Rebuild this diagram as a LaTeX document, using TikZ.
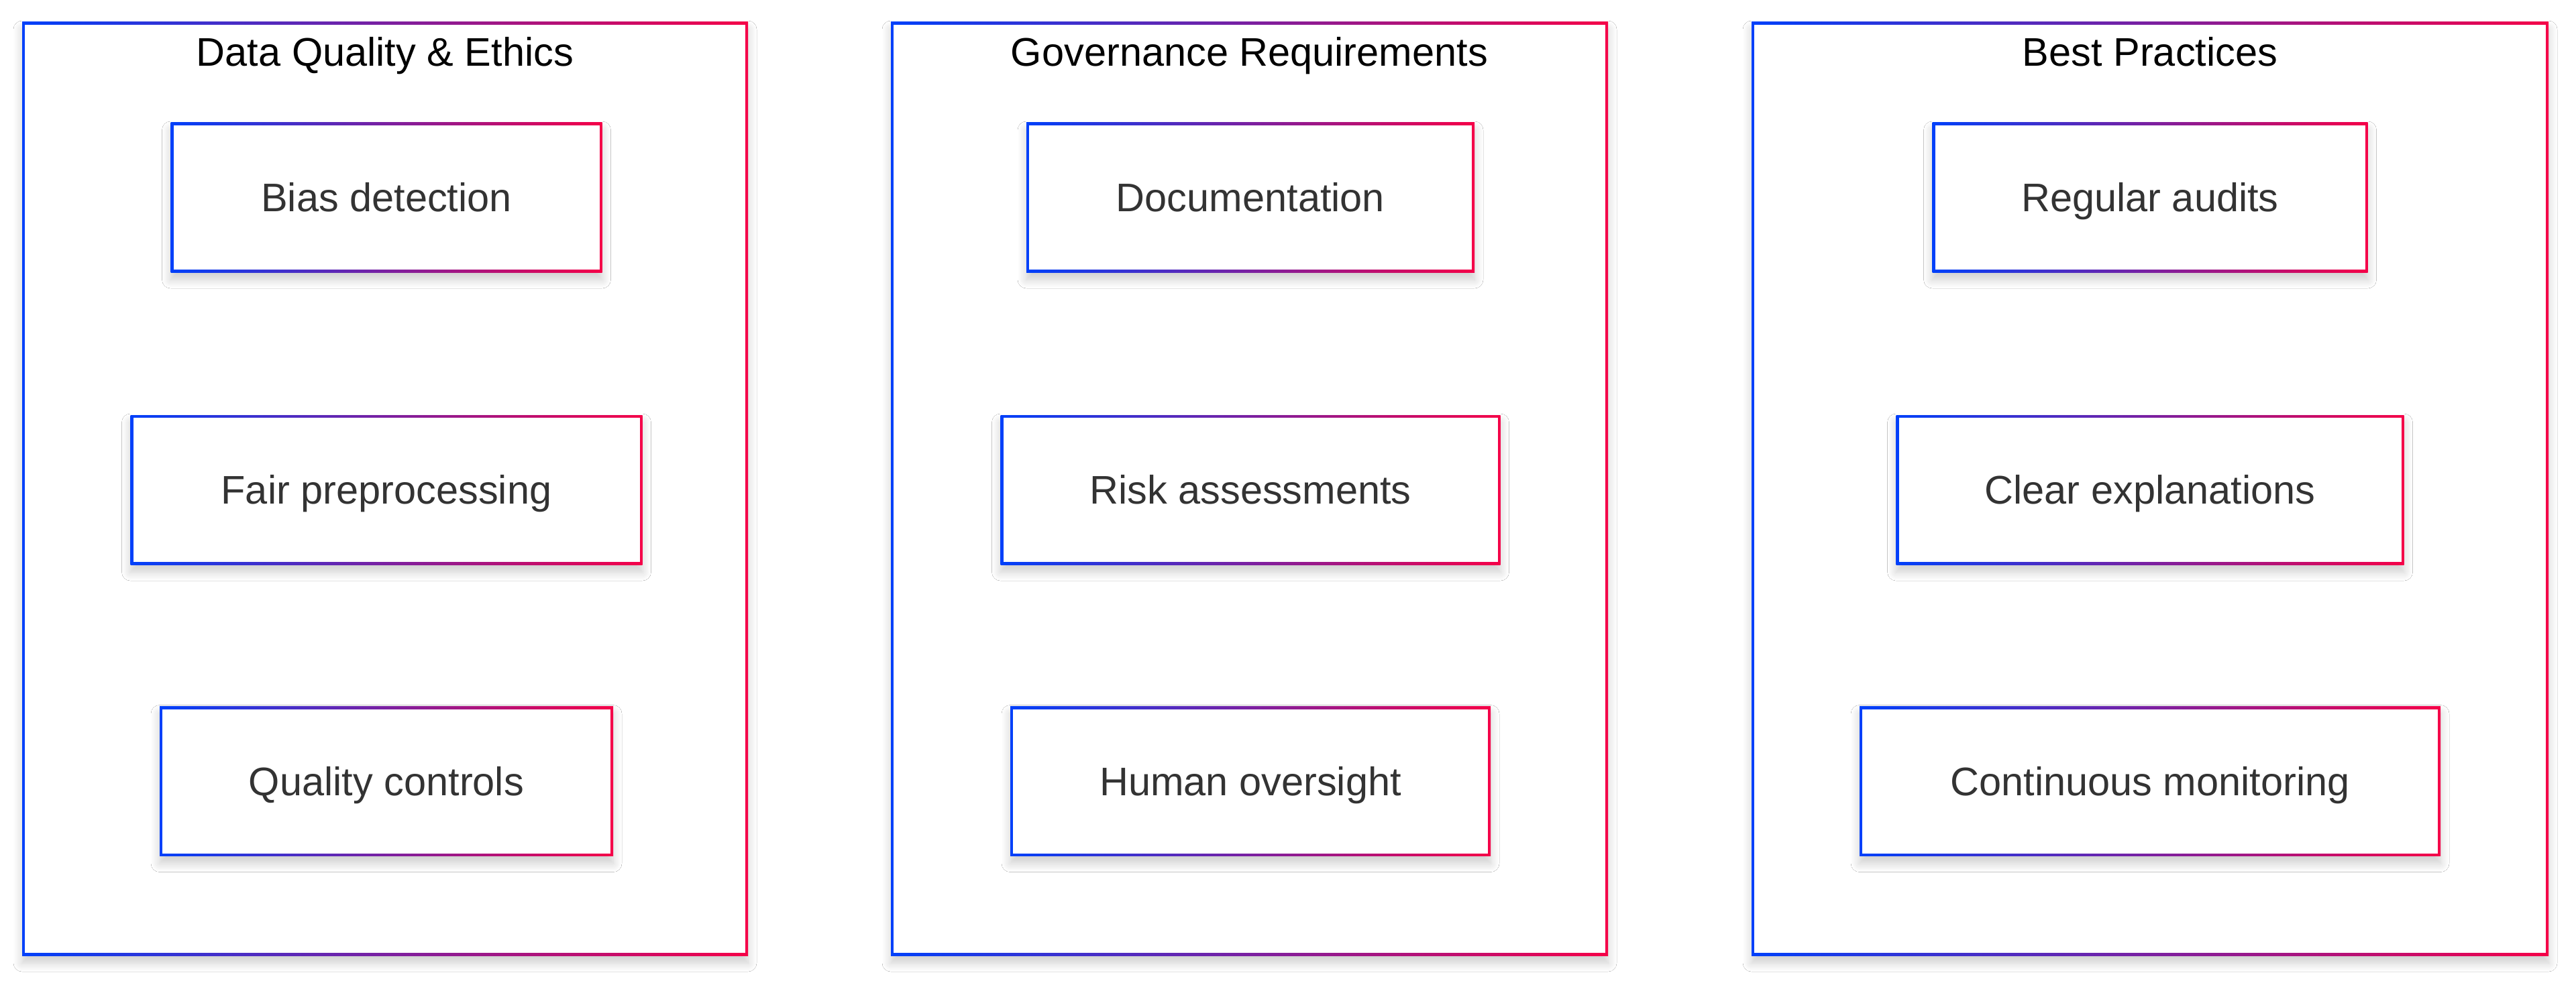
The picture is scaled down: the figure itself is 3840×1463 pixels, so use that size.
\documentclass[tikz,border=0pt]{standalone}
\usepackage{fontspec}
\setmainfont{Liberation Sans}
\usetikzlibrary{shadows.blur}
\definecolor{gb}{RGB}{0,64,250}
\definecolor{gr}{RGB}{245,0,72}
\definecolor{txt}{RGB}{51,51,51}
\newcommand\itemfont{\fontsize{59.5}{70}\selectfont}
\tikzset{
  gbox/.style={rectangle, inner sep=0pt, outer sep=0pt, fill=white,
    blur shadow={shadow xshift=0pt, shadow yshift=-11pt, shadow blur radius=13pt, shadow blur steps=14, shadow opacity=20},
    path picture={
      \shade[left color=gb, right color=gr]
        (path picture bounding box.south west) rectangle (path picture bounding box.north east);
      \fill[white]
        ([xshift=4pt,yshift=4pt]path picture bounding box.south west) rectangle
        ([xshift=-4pt,yshift=-4pt]path picture bounding box.north east);
    }},
  item/.style={gbox, font=\itemfont, text=txt, text height=42pt, text depth=0pt, minimum height=223pt},
  cluster/.style={gbox, minimum height=1392pt},
  ctitle/.style={font=\itemfont, text=black, anchor=base, inner sep=0pt}
}
\begin{document}
\begin{tikzpicture}[x=1pt, y=-1pt]
\useasboundingbox (0,0) rectangle (3840,1463);
\fill[white] (0,0) rectangle (3840,1463);
% clusters
\node[cluster, minimum width=1082pt] (c1) at (574,729) {};
\node[cluster, minimum width=1069pt] (c2) at (1862.5,729) {};
\node[cluster, minimum width=1188pt] (c3) at (3205,729) {};
\node[ctitle] (t1) at (574,99) {Data Quality \& Ethics};
\node[ctitle] (t2) at (1862.5,99) {Governance Requirements};
\node[ctitle] (t3) at (3205,99) {Best Practices};
% cluster 1
\node[item, minimum width=643pt] (bias) at (576,294.5) {Bias detection};
\node[item, minimum width=763pt] (fair) at (576,730.5) {Fair preprocessing};
\node[item, minimum width=676pt] (qual) at (576,1165) {Quality controls};
% cluster 2
\node[item, minimum width=668pt] (doc) at (1864,294.5) {Documentation};
\node[item, minimum width=745pt] (risk) at (1864,730.5) {Risk assessments};
\node[item, minimum width=716pt] (human) at (1864,1165) {Human oversight};
% cluster 3
\node[item, minimum width=649pt] (audit) at (3205,294.5) {Regular audits};
\node[item, minimum width=757pt] (clear) at (3205,730.5) {Clear explanations};
\node[item, minimum width=866pt] (mon) at (3205,1165) {Continuous monitoring};
\end{tikzpicture}
\end{document}
